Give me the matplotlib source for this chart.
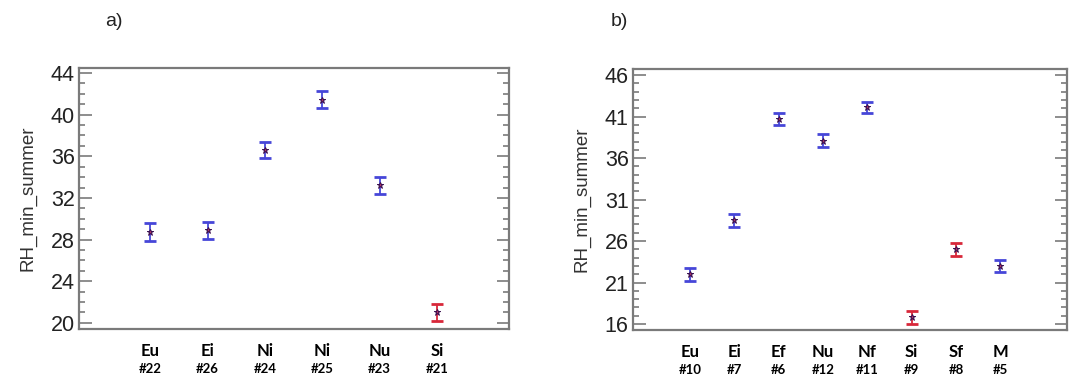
import numpy as np
import matplotlib.pyplot as plt
from matplotlib.ticker import MultipleLocator

# panel a)
groups_a = ['Eu', 'Ei', 'Ni', 'Ni', 'Nu', 'Si']
ids_a = ['#22', '#26', '#24', '#25', '#23', '#21']
means_a = [28.75, 28.9, 36.6, 41.45, 33.2, 21.0]
err_a = [0.85, 0.8, 0.8, 0.85, 0.8, 0.85]
red_a = [False, False, False, False, False, True]
ticks_a = [20, 24, 28, 32, 36, 40, 44]

# panel b)
groups_b = ['Eu', 'Ei', 'Ef', 'Nu', 'Nf', 'Si', 'Sf', 'M']
ids_b = ['#10', '#7', '#6', '#12', '#11', '#9', '#8', '#5']
means_b = [22.0, 28.5, 40.7, 38.1, 42.1, 16.8, 25.0, 23.0]
err_b = [0.75, 0.75, 0.7, 0.75, 0.7, 0.75, 0.8, 0.7]
red_b = [False, False, False, False, False, True, True, False]
ticks_b = [16, 21, 26, 31, 36, 41, 46]

blue = '#4646d8'
red = '#d8283a'
spine_c = '#7a7a7a'

plt.rcParams['font.family'] = ['Liberation Sans', 'DejaVu Sans']
fig = plt.figure(figsize=(10.69, 3.82), dpi=100)

def panel(rect, groups, ids, means, errs, reds, ticks, ylim, xlim, letter, letter_x):
    ax = fig.add_axes(rect)
    x = np.arange(len(groups))
    for xi, m, e, r in zip(x, means, errs, reds):
        c = red if r else blue
        ax.errorbar(xi, m, yerr=e, fmt='none', ecolor=c, elinewidth=1.3,
                    capsize=4, capthick=2.0)
        ax.plot(xi, m, marker='*', ms=5, color='#b03060', mec='#3a1050', mew=0.7)
    ax.set_ylim(*ylim)
    ax.set_xlim(*xlim)
    ax.set_yticks(ticks)
    ax.yaxis.set_minor_locator(MultipleLocator(1))
    ax.tick_params(axis='y', which='both', direction='in', left=True, right=True,
                   colors=spine_c, labelcolor='#222222', labelsize=15.5, width=1.2,
                   pad=3)
    ax.tick_params(axis='y', which='major', length=9)
    ax.tick_params(axis='y', which='minor', length=4)
    ax.set_xticks([])
    for s in ax.spines.values():
        s.set_color(spine_c)
        s.set_linewidth(1.6)
    ax.set_ylabel('RH_min_summer', fontsize=13.5, color='#333333', labelpad=10)
    tr = ax.get_xaxis_transform()
    for xi, g, i in zip(x, groups, ids):
        ax.text(xi, -0.085, g, transform=tr, ha='center', va='center',
                fontsize=12, fontweight='bold', family='Lato')
        ax.text(xi, -0.155, i, transform=tr, ha='center', va='center',
                fontsize=9.5, fontweight='bold', family='Lato')
    fig.text(letter_x, 0.945, letter, fontsize=14, color='#222222', ha='left', va='center')
    return ax

panel([0.0739, 0.139, 0.402, 0.683], groups_a, ids_a, means_a, err_a, red_a, ticks_a,
      (19.42, 44.48), (-1.24, 6.25), 'a)', 0.098)
panel([0.592, 0.136, 0.406, 0.683], groups_b, ids_b, means_b, err_b, red_b, ticks_b,
      (15.28, 46.72), (-1.29, 8.5), 'b)', 0.571)

fig.savefig('out.png', dpi=100)
